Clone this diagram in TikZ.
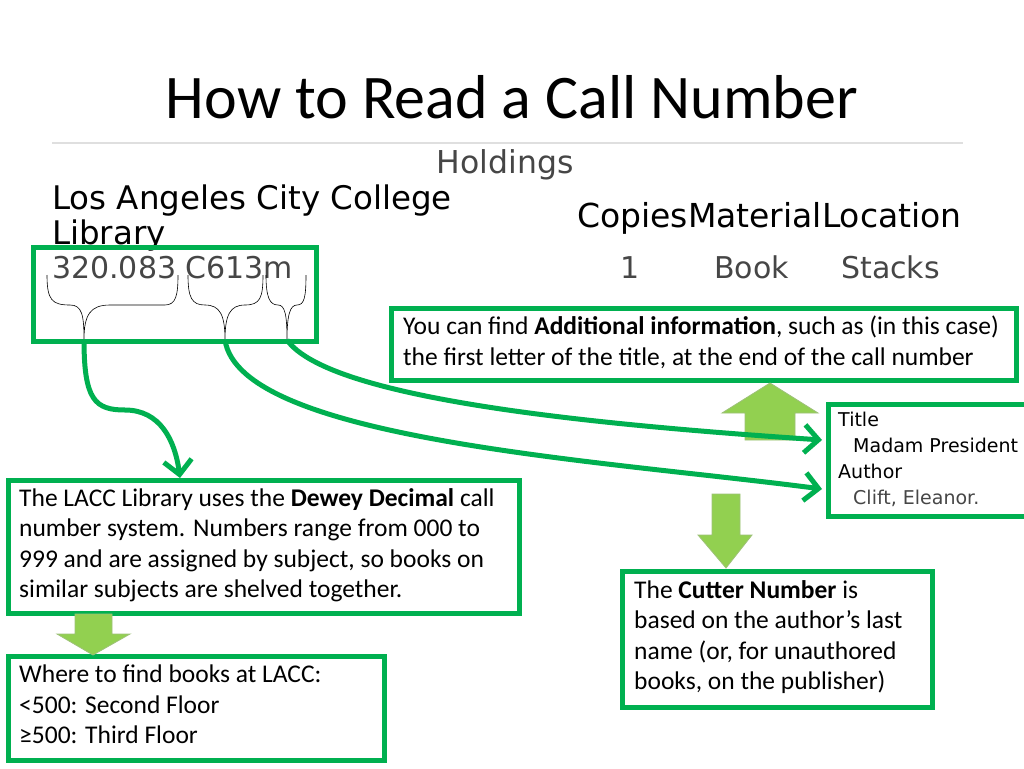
\documentclass[tikz,border=0pt]{standalone}
\usepackage{fontspec}
\setmainfont{Carlito}
\newfontfamily\webfont{DejaVu Sans}
\usetikzlibrary{arrows.meta}
\definecolor{boxgreen}{RGB}{0,176,80}
\definecolor{lightgreen}{RGB}{146,208,80}
\definecolor{webgray}{RGB}{70,70,70}
\tikzset{
  greenbox/.style={draw=boxgreen, line width=5pt},
  bodytext/.style={anchor=north west, align=left, inner sep=0pt, font=\fontsize{25.5}{30.5}\selectfont},
  webtext/.style={anchor=base west, inner sep=0pt, font=\webfont\fontsize{30}{34}\selectfont},
  smallweb/.style={anchor=base west, inner sep=0pt, font=\webfont\fontsize{19}{22}\selectfont},
  brace/.style={black, line width=0.6pt},
  callarrow/.style={boxgreen, line width=5pt, -{Straight Barb[length=14pt, width=28pt, line width=5pt]}},
  blockarrow/.style={fill=lightgreen, draw=lightgreen!80!black!70, line width=0.8pt}
}
\begin{document}
\begin{tikzpicture}[x=1pt,y=-1pt]
  \useasboundingbox (0,0) rectangle (1024,768);
  \fill[white] (0,0) rectangle (1024,768);

  % title and header
  \node (title) at (512,97) {\fontsize{62}{70}\selectfont How to Read a Call Number};
  \draw[gray!25, line width=1.5pt] (52,143) -- (963,143);
  \node[webtext, anchor=base, text=webgray, font=\webfont\fontsize{31.5}{36}\selectfont] (holdings) at (505,173) {Holdings};
  \node[webtext, font=\webfont\fontsize{32.5}{38}\selectfont] (college) at (52,209) {Los Angeles City College};
  \node[webtext, font=\webfont\fontsize{32.5}{38}\selectfont] (library) at (52,244) {Library};
  \node[webtext, font=\webfont\fontsize{33}{38}\selectfont] (cols) at (577,227) {CopiesMaterialLocation};
  \node[webtext, text=webgray] (callno) at (52,278) {320.083 C613m};
  \node[webtext, text=webgray] (copies) at (620,278) {1};
  \node[webtext, text=webgray] (book) at (714,278) {Book};
  \node[webtext, text=webgray] (stacks) at (841,278) {Stacks};

  % braces
  \draw[brace] (47,275) .. controls (47,300) and (52,305) .. (70,305) .. controls (82,305) and (84,315) .. (84,340)
               .. controls (84,315) and (90,305) .. (110,305) -- (165,305) .. controls (176,305) and (178,295) .. (178,275);
  \draw[brace] (188,275) .. controls (188,298) and (192,305) .. (205,305) .. controls (220,305) and (225,315) .. (225,340)
               .. controls (225,315) and (230,305) .. (245,305) .. controls (260,305) and (263,298) .. (263,275);
  \draw[brace] (266,275) .. controls (266,298) and (270,305) .. (278,305) .. controls (285,305) and (287,315) .. (287,340)
               .. controls (287,315) and (290,305) .. (297,305) .. controls (304,305) and (306,298) .. (306,275);
  \coordinate (tipA) at (84,340);
  \coordinate (tipB) at (225,340);
  \coordinate (tipC) at (287,340);

  % boxes
  \draw[greenbox] (33,247) rectangle (316,341);
  \draw[greenbox] (391,308) rectangle (1016,380);
  \draw[greenbox, fill=white] (828,404) rectangle (1030,516);
  \draw[greenbox] (8,480) rectangle (519,613);
  \draw[greenbox] (8,656) rectangle (384,760);
  \draw[greenbox] (622,571) rectangle (932,707);

  % box texts
  \node[bodytext] (addinfo) at (403,316) {You can find \textbf{Additional information}, such as (in this case)\\the first letter of the title, at the end of the call number};
  \node[bodytext] (dewey) at (19,488) {The LACC Library uses the \textbf{Dewey Decimal} call\\number system. Numbers range from 000 to\\999 and are assigned by subject, so books on\\similar subjects are shelved together.};
  \node[bodytext] (floors) at (19,665) {Where to find books at LACC:\\<500: Second Floor\\≥500: Third Floor};
  \node[bodytext] (cutter) at (634,580) {The \textbf{Cutter Number} is\\based on the author’s last\\name (or, for unauthored\\books, on the publisher)};
  \node[smallweb] (ttl) at (838,426) {Title};
  \node[smallweb] (ttlval) at (853,452) {Madam President};
  \node[smallweb] (auth) at (838,478) {Author};
  \node[smallweb, text=webgray] (authval) at (853,504) {Clift, Eleanor.};
  \coordinate (titleend) at (822,440);
  \coordinate (authorend) at (822,489);
  \coordinate (deweyend) at (180,478);

  % block arrows
  \draw[blockarrow] (770,383) -- (818,413) -- (795,413) -- (795,440) -- (745,440) -- (745,413) -- (722,413) -- cycle;
  \draw[blockarrow] (712,494) -- (740,494) -- (740,535) -- (752,535) -- (726,568) -- (698,535) -- (712,535) -- cycle;
  \draw[blockarrow] (75,614) -- (112,614) -- (112,634) -- (130,634) -- (93,655) -- (57,634) -- (75,634) -- cycle;

  % curved arrows
  \draw[callarrow] (tipA) .. controls (84,400) and (95,410) .. (125,410) .. controls (160,410) and (175,440) .. (deweyend);
  \draw[callarrow] (tipB) .. controls (240,440) and (600,460) .. (authorend);
  \draw[callarrow] (tipC) .. controls (330,400) and (600,425) .. (titleend);
\end{tikzpicture}
\end{document}
